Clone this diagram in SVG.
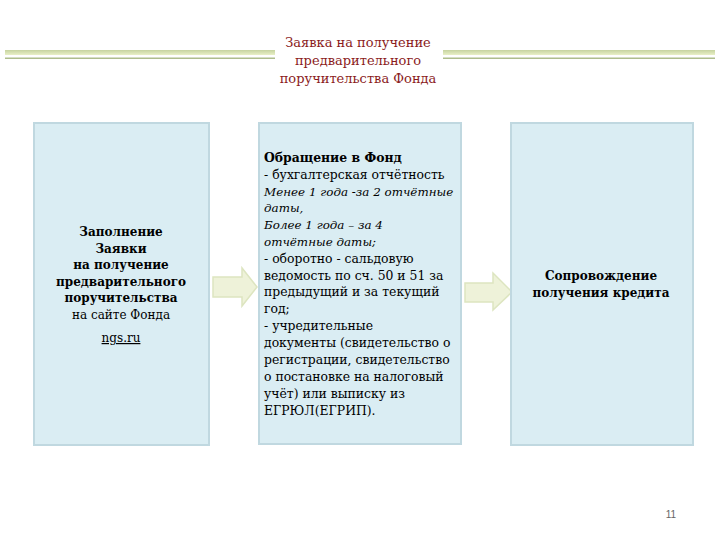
<svg xmlns="http://www.w3.org/2000/svg" width="720" height="540" viewBox="0 0 720 540">
<defs>
<linearGradient id="band" x1="0" y1="0" x2="0" y2="1">
<stop offset="0" stop-color="#c6d3a0"/>
<stop offset="1" stop-color="#e9f0c6"/>
</linearGradient>
</defs>
<style>
.box{fill:#daedf3;stroke:#c0d8e0;stroke-width:2}
.arr{fill:#eef2d9;stroke:#dde5c0;stroke-width:1.5}
.t{font-family:"DejaVu Serif","Liberation Serif",serif;font-size:12px;fill:#000}
.n2{font-size:12.4px}
.b{font-weight:bold}
.i{font-style:italic;font-size:11.9px}
.c{text-anchor:middle}
.title{font-family:"DejaVu Serif","Liberation Serif",serif;font-size:13px;fill:#8b1c1c;text-anchor:middle}
</style>
<rect width="720" height="540" fill="#fff"/>
<g id="band-lines">
<rect x="5" y="50" width="710" height="5" fill="url(#band)"/>
<rect x="5" y="57.5" width="710" height="1.5" fill="#aebd8c"/>
<rect x="275" y="30" width="168" height="62" fill="#fff"/>
</g>
<g id="title">
<text class="title" x="358" y="47">Заявка на получение</text>
<text class="title" x="358" y="65">предварительного</text>
<text class="title" x="358" y="83">поручительства Фонда</text>
</g>
<g id="connectors">
<polygon class="arr" points="213,277 242,277 242,268 257,287 242,306 242,297 213,297"/>
<polygon class="arr" points="465,283 493,283 493,273 512,292 493,310 493,302 465,302"/>
</g>
<g id="node1">
<rect class="box" x="34" y="123" width="175" height="322"/>
<text class="t b c" x="121" y="236">Заполнение</text>
<text class="t b c" x="121" y="252.5">Заявки</text>
<text class="t b c" x="121" y="269">на получение</text>
<text class="t b c" x="121" y="285.5">предварительного</text>
<text class="t b c" x="121" y="302">поручительства</text>
<text class="t c" x="121" y="318.5">на сайте Фонда</text>
<text class="t c" x="121" y="342" fill="#1f2f8f" text-decoration="underline">ngs.ru</text>
</g>
<g id="node2">
<rect class="box" x="259" y="123" width="202" height="321"/>
<text class="t n2 b" x="264" y="162">Обращение в Фонд</text>
<text class="t n2" x="264" y="179">- бухгалтерская отчётность</text>
<text class="t n2 i" x="264" y="195.5">Менее 1 года -за 2 отчётные</text>
<text class="t n2 i" x="264" y="212">даты,</text>
<text class="t n2 i" x="264" y="229">Более 1 года – за 4</text>
<text class="t n2 i" x="264" y="246">отчётные даты;</text>
<text class="t n2" x="264" y="263">- оборотно - сальдовую</text>
<text class="t n2" x="264" y="279.5">ведомость по сч. 50 и 51 за</text>
<text class="t n2" x="264" y="296">предыдущий и за текущий</text>
<text class="t n2" x="264" y="313">год;</text>
<text class="t n2" x="264" y="330">- учредительные</text>
<text class="t n2" x="264" y="347">документы (свидетельство о</text>
<text class="t n2" x="264" y="364">регистрации, свидетельство</text>
<text class="t n2" x="264" y="381">о постановке на налоговый</text>
<text class="t n2" x="264" y="398">учёт) или выписку из</text>
<text class="t n2" x="264" y="415">ЕГРЮЛ(ЕГРИП).</text>
</g>
<g id="node3">
<rect class="box" x="511" y="123" width="182" height="322"/>
<text class="t b c" x="601" y="280">Сопровождение</text>
<text class="t b c" x="601" y="297">получения кредита</text>
</g>
<text x="671" y="518" font-family="Liberation Sans, Arial, sans-serif" font-size="10" fill="#666" text-anchor="middle">11</text>
</svg>
